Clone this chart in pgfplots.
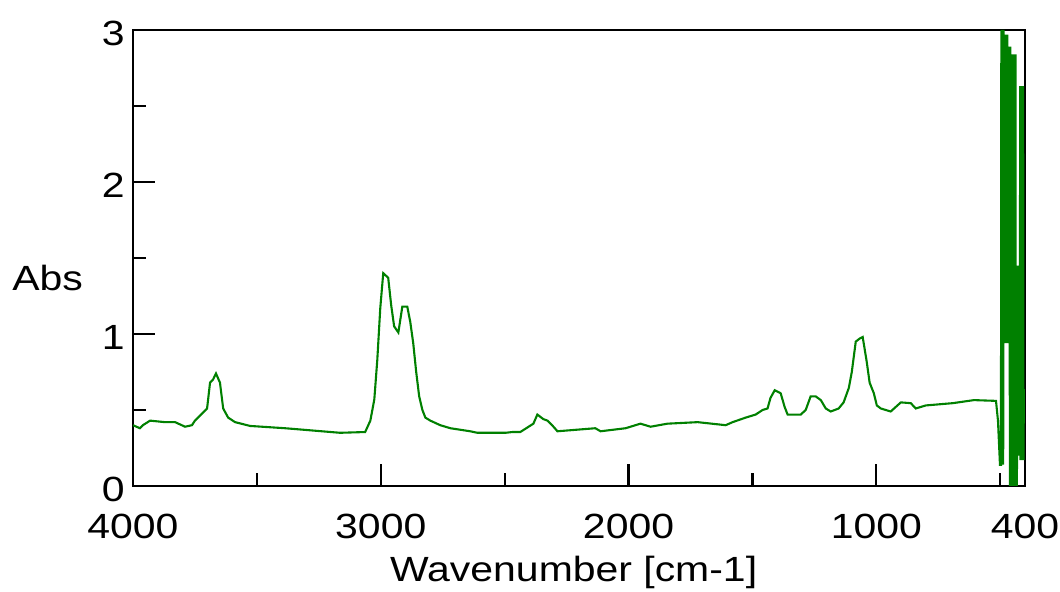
\documentclass[border=0pt]{standalone}
\usepackage{fontspec}
\setmainfont{Liberation Sans}[FakeStretch=1.17]
\usepackage{pgfplots}
\pgfplotsset{compat=1.18}
\definecolor{specgreen}{RGB}{0,128,0}
\newcommand{\lblfont}{\fontsize{17.5pt}{21pt}\selectfont}
\begin{document}
\lblfont
\begin{tikzpicture}
\begin{axis}[
  scale only axis, width=446pt, height=228pt,
  xmin=400, xmax=4000, ymin=0, ymax=3, x dir=reverse,
  axis line style={line width=1.3pt, black},
  xtick={4000,3000,2000,1000,400}, xticklabels={4000,3000,2000,1000,400},
  minor xtick={3500,2500,1500,500},
  ytick={0,1,2,3}, yticklabels={0,1,2,3},
  minor ytick={0.5,1.5,2.5},
  tick align=inside, xtick pos=bottom, ytick pos=left,
  major tick length=11pt, minor tick length=6.5pt,
  every tick/.style={black, line width=1.1pt},
  tick label style={font=\lblfont},
  xticklabel style={inner sep=0pt, yshift=-14pt},
  yticklabel style={inner sep=0pt, xshift=-4pt, yshift=-1.5pt},
  xlabel={Wavenumber [cm-1]}, ylabel={Abs},
  every axis x label/.style={at={(axis description cs:0.494,0)}, anchor=north, inner sep=0pt, yshift=-35pt, font=\lblfont},
  every axis y label/.style={at={(axis description cs:0,0.457)}, anchor=west, inner sep=0pt, xshift=-60.5pt, font=\lblfont},
  clip=true,
]
\addplot[specgreen, line width=1.05pt] coordinates {
(4000,0.40) (3972,0.38) (3960,0.40) (3931,0.43) (3871,0.42) (3830,0.42) (3790,0.39) (3762,0.40) (3750,0.43)
(3701,0.51) (3689,0.68) (3677,0.70) (3665,0.74) (3649,0.68) (3636,0.51) (3616,0.45) (3588,0.42) (3527,0.395)
(3386,0.38) (3164,0.35) (3063,0.355) (3042,0.43) (3026,0.57) (3014,0.83) (3002,1.17) (2990,1.40) (2970,1.37)
(2958,1.19) (2946,1.05) (2929,1.01) (2913,1.18) (2893,1.18) (2881,1.08) (2869,0.94) (2857,0.75) (2845,0.59)
(2832,0.50) (2820,0.45) (2800,0.43) (2760,0.40) (2719,0.38) (2639,0.36) (2610,0.35) (2497,0.35) (2469,0.355)
(2437,0.355) (2384,0.41) (2368,0.47) (2344,0.44) (2327,0.43) (2303,0.39) (2287,0.36) (2134,0.38) (2113,0.36)
(2012,0.38) (1952,0.41) (1911,0.39) (1843,0.41) (1721,0.42) (1608,0.40) (1580,0.42) (1527,0.45) (1487,0.47)
(1459,0.50) (1439,0.51) (1427,0.58) (1410,0.63) (1386,0.61) (1370,0.52) (1358,0.47) (1305,0.47) (1285,0.50)
(1265,0.59) (1245,0.59) (1224,0.565) (1204,0.51) (1184,0.49) (1152,0.51) (1132,0.55) (1111,0.645) (1099,0.75)
(1083,0.95) (1067,0.97) (1055,0.98) (1039,0.82) (1027,0.68) (1010,0.61) (998,0.53) (982,0.51) (942,0.49)
(901,0.55) (861,0.545) (841,0.51) (800,0.53) (691,0.545) (606,0.565) (517,0.56) (509,0.43) (501,0.14)
(497,0.14) (495.5,3.0) (494,0.14) (492.5,3.0) (491,0.14) (489.5,3.0) (488,0.14) (486.5,3.0)
(485,0.94) (483.5,2.97) (482,0.94) (480.5,2.97) (479,0.94) (477.5,2.97) (476,0.94) (474.5,2.97) (473,0.94) (471.5,2.97)
(470,0.94) (468.5,2.89) (467,0.94) (465.5,2.89) (464,0.94) (462.5,2.89)
(461,0.0) (459.5,2.89) (458,0.0) (456.5,2.84) (455,0.0) (453.5,2.84) (452,0.0) (450.5,2.84) (449,0.0) (447.5,2.84)
(446,0.0) (444.5,2.84) (443,0.0) (441.5,2.84) (440,0.0) (438.5,2.84) (437,0.0)
(435,0.41) (433,0.0) (431,0.41) (430,0.2) (428.5,1.45) (427,0.2) (425.5,1.45) (424,0.2) (422.5,1.45) (421,0.2)
(419.5,2.63) (418,0.17) (416.5,2.63) (415,0.17) (413.5,2.63) (412,0.17) (410.5,2.63) (409,0.17) (407.5,2.63) (406,0.17)
(404.5,0.63) (400,0.63)
};
\coordinate (bl) at (rel axis cs:0,0);
\coordinate (tr) at (rel axis cs:1,1);
\end{axis}
\pgfresetboundingbox
\path ([shift={(-66.5pt,-53pt)}]bl) rectangle ([shift={(17.5pt,15pt)}]tr);
\end{tikzpicture}
\end{document}
